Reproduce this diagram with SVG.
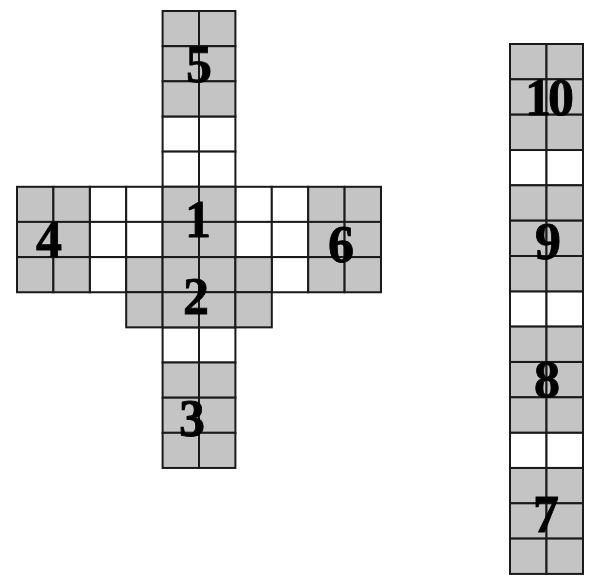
<svg xmlns="http://www.w3.org/2000/svg" width="600" height="588" viewBox="0 0 600 588">
<style>
.s{fill:#c4c4c4;stroke:#1a1a1a;stroke-width:2}
.w{fill:#ffffff;stroke:#1a1a1a;stroke-width:2}
.n{font-family:"Liberation Serif","Times New Roman",serif;font-weight:bold;font-size:52px;fill:#000;stroke:#000;stroke-width:0.8;text-anchor:middle}
</style>
<rect width="600" height="588" fill="#fff"/>
<g id="connectors"></g>
<g id="whites-left">
<rect class="w" x="162.6" y="116.5" width="36.4" height="35.15"/><rect class="w" x="199" y="116.5" width="36.4" height="35.15"/>
<rect class="w" x="162.6" y="151.6" width="36.4" height="35.15"/><rect class="w" x="199" y="151.6" width="36.4" height="35.15"/>
<rect class="w" x="162.6" y="327.4" width="36.4" height="35.15"/><rect class="w" x="199" y="327.4" width="36.4" height="35.15"/>
<rect class="w" x="89.8" y="186.8" width="36.4" height="35.15"/><rect class="w" x="126.2" y="186.8" width="36.4" height="35.15"/>
<rect class="w" x="89.8" y="221.9" width="36.4" height="35.15"/><rect class="w" x="126.2" y="221.9" width="36.4" height="35.15"/>
<rect class="w" x="89.8" y="257.1" width="36.4" height="35.15"/>
<rect class="w" x="235.4" y="186.8" width="36.4" height="35.15"/><rect class="w" x="271.8" y="186.8" width="36.4" height="35.15"/>
<rect class="w" x="235.4" y="221.9" width="36.4" height="35.15"/><rect class="w" x="271.8" y="221.9" width="36.4" height="35.15"/>
<rect class="w" x="271.8" y="257.1" width="36.4" height="35.15"/>
</g>
<g id="node5">
<rect class="s" x="162.6" y="11" width="36.4" height="35.15"/><rect class="s" x="199" y="11" width="36.4" height="35.15"/>
<rect class="s" x="162.6" y="46.2" width="36.4" height="35.15"/><rect class="s" x="199" y="46.2" width="36.4" height="35.15"/>
<rect class="s" x="162.6" y="81.3" width="36.4" height="35.15"/><rect class="s" x="199" y="81.3" width="36.4" height="35.15"/>
<text class="n" x="199" y="82">5</text>
</g>
<g id="node4">
<rect class="s" x="17" y="186.8" width="36.4" height="35.15"/><rect class="s" x="53.4" y="186.8" width="36.4" height="35.15"/>
<rect class="s" x="17" y="221.9" width="36.4" height="35.15"/><rect class="s" x="53.4" y="221.9" width="36.4" height="35.15"/>
<rect class="s" x="17" y="257.1" width="36.4" height="35.15"/><rect class="s" x="53.4" y="257.1" width="36.4" height="35.15"/>
<text class="n" x="49" y="257">4</text>
</g>
<g id="node1">
<rect class="s" x="162.6" y="186.8" width="36.4" height="35.15"/><rect class="s" x="199" y="186.8" width="36.4" height="35.15"/>
<rect class="s" x="162.6" y="221.9" width="36.4" height="35.15"/><rect class="s" x="199" y="221.9" width="36.4" height="35.15"/>
<text class="n" x="198" y="237">1</text>
</g>
<g id="node6">
<rect class="s" x="308.2" y="186.8" width="36.4" height="35.15"/><rect class="s" x="344.6" y="186.8" width="36.4" height="35.15"/>
<rect class="s" x="308.2" y="221.9" width="36.4" height="35.15"/><rect class="s" x="344.6" y="221.9" width="36.4" height="35.15"/>
<rect class="s" x="308.2" y="257.1" width="36.4" height="35.15"/><rect class="s" x="344.6" y="257.1" width="36.4" height="35.15"/>
<text class="n" x="341" y="262">6</text>
</g>
<g id="node2">
<rect class="s" x="126.2" y="257.1" width="36.4" height="35.15"/><rect class="s" x="162.6" y="257.1" width="36.4" height="35.15"/>
<rect class="s" x="199" y="257.1" width="36.4" height="35.15"/><rect class="s" x="235.4" y="257.1" width="36.4" height="35.15"/>
<rect class="s" x="126.2" y="292.2" width="36.4" height="35.15"/><rect class="s" x="162.6" y="292.2" width="36.4" height="35.15"/>
<rect class="s" x="199" y="292.2" width="36.4" height="35.15"/><rect class="s" x="235.4" y="292.2" width="36.4" height="35.15"/>
<text class="n" x="196" y="314">2</text>
</g>
<g id="node3">
<rect class="s" x="162.6" y="362.5" width="36.4" height="35.15"/><rect class="s" x="199" y="362.5" width="36.4" height="35.15"/>
<rect class="s" x="162.6" y="397.7" width="36.4" height="35.15"/><rect class="s" x="199" y="397.7" width="36.4" height="35.15"/>
<rect class="s" x="162.6" y="432.8" width="36.4" height="35.15"/><rect class="s" x="199" y="432.8" width="36.4" height="35.15"/>
<text class="n" x="192" y="436">3</text>
</g>
<g id="whites-right">
<rect class="w" x="510" y="150" width="36.5" height="35.33"/><rect class="w" x="546.5" y="150" width="36.5" height="35.33"/>
<rect class="w" x="510" y="291.3" width="36.5" height="35.33"/><rect class="w" x="546.5" y="291.3" width="36.5" height="35.33"/>
<rect class="w" x="510" y="432.6" width="36.5" height="35.33"/><rect class="w" x="546.5" y="432.6" width="36.5" height="35.33"/>
</g>
<g id="node10">
<rect class="s" x="510" y="44" width="36.5" height="35.33"/><rect class="s" x="546.5" y="44" width="36.5" height="35.33"/>
<rect class="s" x="510" y="79.3" width="36.5" height="35.33"/><rect class="s" x="546.5" y="79.3" width="36.5" height="35.33"/>
<rect class="s" x="510" y="114.7" width="36.5" height="35.33"/><rect class="s" x="546.5" y="114.7" width="36.5" height="35.33"/>
<text class="n" x="548" y="115" letter-spacing="-3">10</text>
</g>
<g id="node9">
<rect class="s" x="510" y="185.3" width="36.5" height="35.33"/><rect class="s" x="546.5" y="185.3" width="36.5" height="35.33"/>
<rect class="s" x="510" y="220.7" width="36.5" height="35.33"/><rect class="s" x="546.5" y="220.7" width="36.5" height="35.33"/>
<rect class="s" x="510" y="256" width="36.5" height="35.33"/><rect class="s" x="546.5" y="256" width="36.5" height="35.33"/>
<text class="n" x="548" y="259">9</text>
</g>
<g id="node8">
<rect class="s" x="510" y="326.6" width="36.5" height="35.33"/><rect class="s" x="546.5" y="326.6" width="36.5" height="35.33"/>
<rect class="s" x="510" y="362" width="36.5" height="35.33"/><rect class="s" x="546.5" y="362" width="36.5" height="35.33"/>
<rect class="s" x="510" y="397.3" width="36.5" height="35.33"/><rect class="s" x="546.5" y="397.3" width="36.5" height="35.33"/>
<text class="n" x="547" y="397">8</text>
</g>
<g id="node7">
<rect class="s" x="510" y="468" width="36.5" height="35.33"/><rect class="s" x="546.5" y="468" width="36.5" height="35.33"/>
<rect class="s" x="510" y="503.3" width="36.5" height="35.33"/><rect class="s" x="546.5" y="503.3" width="36.5" height="35.33"/>
<rect class="s" x="510" y="538.6" width="36.5" height="35.33"/><rect class="s" x="546.5" y="538.6" width="36.5" height="35.33"/>
<text class="n" x="546" y="532">7</text>
</g>
</svg>
